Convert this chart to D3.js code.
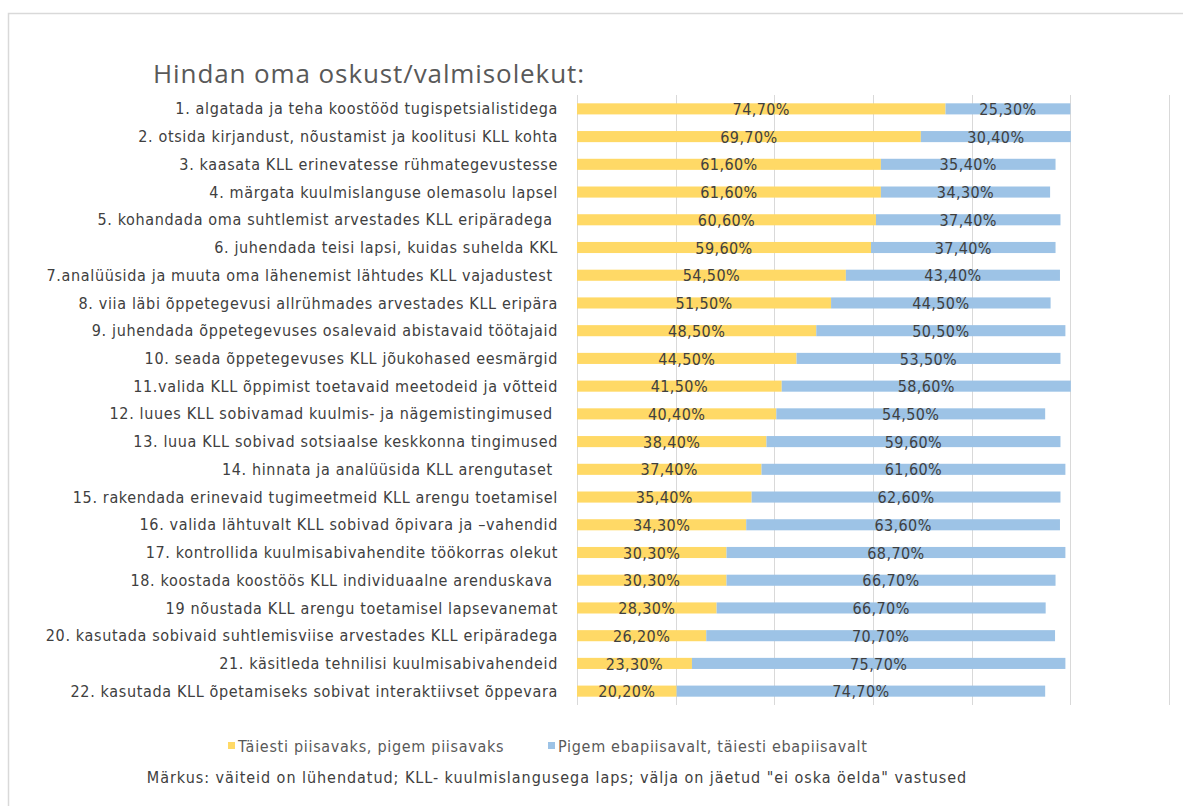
<!DOCTYPE html>
<html>
<head>
<meta charset="utf-8">
<script src="https://cdn.jsdelivr.net/npm/d3@7"></script>
<style>
  body { margin: 0; background: #fff; }
  text { font-family: "Liberation Sans Narrow", "DejaVu Sans Condensed", "Open Sans", sans-serif; }
</style>
</head>
<body>
<div id="viz"></div>
<script>
const statements = [
    "1. algatada ja teha koostööd tugispetsialistidega",
    "2. otsida kirjandust, nõustamist ja koolitusi KLL kohta",
    "3. kaasata KLL erinevatesse rühmategevustesse",
    "4. märgata kuulmislanguse olemasolu lapsel",
    "5. kohandada oma suhtlemist arvestades KLL eripäradega ",
    "6. juhendada teisi lapsi, kuidas suhelda KKL",
    "7.analüüsida ja muuta oma lähenemist lähtudes KLL vajadustest ",
    "8. viia läbi õppetegevusi allrühmades arvestades KLL eripära",
    "9. juhendada õppetegevuses osalevaid abistavaid töötajaid",
    "10. seada õppetegevuses KLL jõukohased eesmärgid",
    "11.valida KLL õppimist toetavaid meetodeid ja võtteid",
    "12. luues KLL sobivamad kuulmis- ja nägemistingimused ",
    "13. luua KLL sobivad sotsiaalse keskkonna tingimused",
    "14. hinnata ja analüüsida KLL arengutaset ",
    "15. rakendada erinevaid tugimeetmeid KLL arengu toetamisel",
    "16. valida lähtuvalt KLL sobivad õpivara ja –vahendid",
    "17. kontrollida kuulmisabivahendite töökorras olekut",
    "18. koostada koostöös KLL individuaalne arenduskava ",
    "19 nõustada KLL arengu toetamisel lapsevanemat",
    "20. kasutada sobivaid suhtlemisviise arvestades KLL eripäradega",
    "21. käsitleda tehnilisi kuulmisabivahendeid",
    "22. kasutada KLL õpetamiseks sobivat interaktiivset õppevara"
];

const sufficient = [74.7, 69.7, 61.6, 61.6, 60.6, 59.6, 54.5, 51.5, 48.5, 44.5, 41.5,
    40.4, 38.4, 37.4, 35.4, 34.3, 30.3, 30.3, 28.3, 26.2, 23.3, 20.2];
const insufficient = [25.3, 30.4, 35.4, 34.3, 37.4, 37.4, 43.4, 44.5, 50.5, 53.5, 58.6,
    54.5, 59.6, 61.6, 62.6, 63.6, 68.7, 66.7, 66.7, 70.7, 75.7, 74.7];

const seriesNames = ["Täiesti piisavaks, pigem piisavaks", "Pigem ebapiisavalt, täiesti ebapiisavalt"];
const seriesColors = ["#FFD966", "#9DC3E6"];
const xTicks = [0, 20, 40, 60, 80, 100, 120];

const title = "Hindan oma oskust/valmisolekut:";
const note = "Märkus: väiteid on lühendatud; KLL- kuulmislangusega laps; välja on jäetud \"ei oska öelda\" vastused";

const width = 1183;
const height = 806;
const margin = { left: 577, right: 13, top: 95, bottom: 101 };

const svg = d3.select("#viz").append("svg")
    .attr("width", width)
    .attr("height", height);

// chart border (light gray frame)
svg.append("path")
    .attr("d", `M8.5,${height} V13.5 H${width}`)
    .attr("fill", "none")
    .attr("stroke", "#d9d9d9")
    .attr("stroke-width", 1.5);

const rows = statements.map((s, i) => ({ name: s, a: sufficient[i], b: insufficient[i] }));

const xScale = d3.scaleLinear()
    .domain([0, 120])
    .range([margin.left, width - margin.right - 1]);

const yScale = d3.scaleBand()
    .domain(statements)
    .range([margin.top, height - margin.bottom])
    .paddingInner(0.6)
    .paddingOuter(0.3);

// gridlines
svg.append("g")
    .selectAll("line")
    .data(xTicks)
    .join("line")
        .attr("x1", d => Math.round(xScale(d)) + 0.5)
        .attr("x2", d => Math.round(xScale(d)) + 0.5)
        .attr("y1", margin.top)
        .attr("y2", height - margin.bottom)
        .attr("stroke", "#d9d9d9")
        .attr("stroke-width", 1);

// title
svg.append("text")
    .attr("x", 153)
    .attr("y", 83)
    .attr("fill", "#595959")
    .style("font-family", "'Open Sans', sans-serif")
    .style("font-size", "26px")
    .style("letter-spacing", "0.9px")
    .text(title);

// category labels
svg.append("g")
    .selectAll("text")
    .data(statements)
    .join("text")
        .attr("x", margin.left - 19)
        .attr("y", d => yScale(d) + yScale.bandwidth() / 2)
        .attr("dy", "0.35em")
        .attr("text-anchor", "end")
        .attr("fill", "#404040")
        .style("font-size", "16px")
        .style("letter-spacing", "0.65px")
        .style("white-space", "pre")
        .text(d => d);

const gRow = svg.selectAll(".row")
    .data(rows)
    .join("g")
        .attr("class", "row")
        .attr("transform", d => `translate(0,${yScale(d.name)})`);

gRow.append("rect")
    .attr("x", xScale(0))
    .attr("width", d => xScale(d.a) - xScale(0))
    .attr("height", yScale.bandwidth())
    .attr("fill", seriesColors[0]);

gRow.append("rect")
    .attr("x", d => xScale(d.a))
    .attr("width", d => xScale(d.a + d.b) - xScale(d.a))
    .attr("height", yScale.bandwidth())
    .attr("fill", seriesColors[1]);

const fmt = v => v.toFixed(2).replace(".", ",") + "%";

gRow.append("text")
    .attr("x", d => (xScale(0) + xScale(d.a)) / 2)
    .attr("y", yScale.bandwidth() / 2)
    .attr("dy", "0.38em")
    .attr("text-anchor", "middle")
    .attr("fill", "#404040")
    .style("font-size", "16px")
    .style("letter-spacing", "0.4px")
    .text(d => fmt(d.a));

gRow.append("text")
    .attr("x", d => (xScale(d.a) + xScale(d.a + d.b)) / 2)
    .attr("y", yScale.bandwidth() / 2)
    .attr("dy", "0.38em")
    .attr("text-anchor", "middle")
    .attr("fill", "#404040")
    .style("font-size", "16px")
    .style("letter-spacing", "0.4px")
    .text(d => fmt(d.b));

// legend
const legendX = [228, 548];
const legend = svg.selectAll(".legend")
    .data(seriesNames)
    .join("g")
        .attr("class", "legend")
        .attr("transform", (d, i) => `translate(${legendX[i]},746)`);

legend.append("rect")
    .attr("x", 0)
    .attr("y", -4)
    .attr("width", 7)
    .attr("height", 7)
    .attr("fill", (d, i) => seriesColors[i]);

legend.append("text")
    .attr("x", 10)
    .attr("y", 0)
    .attr("dy", "0.35em")
    .attr("fill", "#595959")
    .style("font-size", "16px")
    .style("letter-spacing", "0.7px")
    .text(d => d);

svg.append("text")
    .attr("x", 557)
    .attr("y", 777)
    .attr("dy", "0.35em")
    .attr("text-anchor", "middle")
    .attr("fill", "#404040")
    .style("font-size", "16px")
    .style("letter-spacing", "0.95px")
    .text(note);
</script>
</body>
</html>
